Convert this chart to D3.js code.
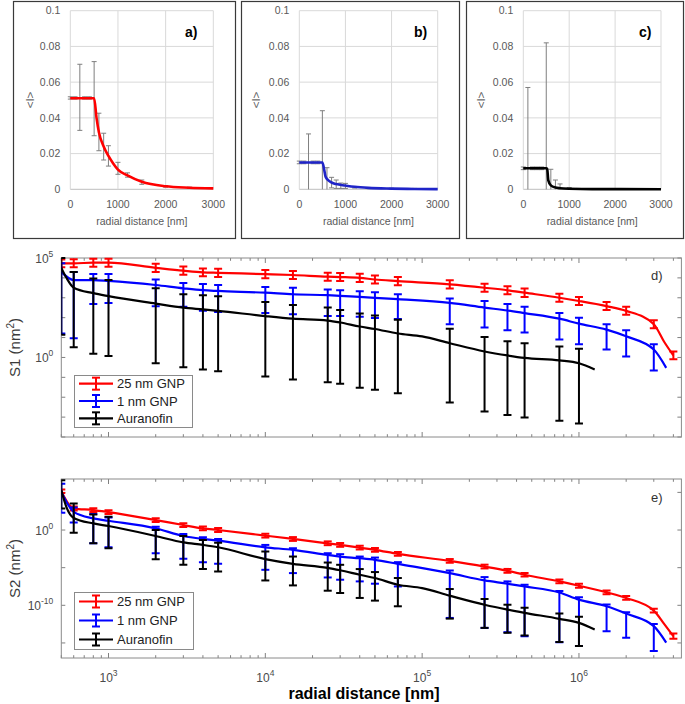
<!DOCTYPE html>
<html><head><meta charset="utf-8">
<script src="https://cdn.jsdelivr.net/npm/d3@7"></script>
<style>body{margin:0;background:#fff}svg{display:block}text{font-family:"Liberation Sans",Arial,sans-serif}</style>
</head><body><svg id="c" width="685" height="704"></svg>
<script>
// ---------- top panels (linear) ----------
const aLineX = [0,100,200,300,400,500,550,600,700,800,900,1000,1200,1500,2000,2500,3000];
const aLineY = [0.051,0.051,0.051,0.051,0.051,0.051,0.040,0.032,0.024,0.0187,0.0145,0.011,0.0078,0.0042,0.0017,0.0009,0.0005];
const aBarX  = [0,100,200,300,400,500,600,700,800,1000,1200,1500,2000,2500];
const aBarLo = [0.0505,0.0505,0.033,0.0505,0.0505,0.030,0.0216,0.0164,0.013,0.0084,0.0068,0.0028,0.0012,0.0006];
const aBarHi = [0.0518,0.0518,0.070,0.0518,0.0518,0.0715,0.0426,0.0314,0.0244,0.0151,0.0092,0.0052,0.0021,0.0012];

const bLineX = [0,100,200,300,400,500,540,570,630,700,800,1000,1200,1500,2000,2500,3000];
const bLineY = [0.015,0.015,0.015,0.015,0.015,0.015,0.011,0.007,0.005,0.0038,0.0029,0.0021,0.0014,0.0008,0.0004,0.0002,0.0001];
const bBarX  = [0,100,200,300,400,500,600,700,800,900,1000,1200,1500,2000,2500];
const bBarLo = [0.0143,0.0143,0,0.0143,0.0143,0,0,0.0008,0.0005,0.0005,0.0005,0.0007,0.0004,0.0002,0.0001];
const bBarHi = [0.0158,0.0158,0.031,0.0158,0.0158,0.044,0.0121,0.0067,0.0052,0.0035,0.0033,0.0015,0.001,0.0006,0.0005];

const cLineX = [0,100,200,300,400,500,520,545,600,700,800,1000,1500,3000];
const cLineY = [0.0118,0.0118,0.0118,0.0118,0.0118,0.0118,0.0115,0.005,0.0022,0.001,0.0006,0.0003,0.0001,0.00005];
const cBarX  = [0,100,200,300,400,500,600,700,800,1000,1200,1500,2000,2500];
const cBarLo = [0.011,0,0.011,0.011,0.011,0,0,0,0,0,0,0,0,0];
const cBarHi = [0.0125,0.057,0.0125,0.0125,0.0125,0.082,0.0112,0.0052,0.003,0.001,0.0005,0.0004,0.0003,0.0003];

const linYTicks = [0,0.02,0.04,0.06,0.08,0.1];
const linXTicks = [0,1000,2000,3000];

// ---------- bottom panels (log-log) ----------
const legendNames = ["25 nm GNP","1 nm GNP","Auranofin"];
const redX   = [500,600,800,1000,2000,3000,4000,5000,1e4,1.5e4,2.5e4,3e4,4e4,5e4,7e4,1.5e5,2.5e5,3.5e5,4.5e5,7.5e5,1e6,1.5e6,2e6,3e6,3.5e6,4e6];
const blueX  = [500,600,800,1000,2000,3000,4000,5000,1e4,1.5e4,2.5e4,3e4,4e4,5e4,7e4,1.5e5,2.5e5,3.5e5,4.5e5,7.5e5,1e6,1.5e6,2e6,3e6,3.6e6];
const blackX = [500,540,600,800,1000,2000,3000,4000,5000,1e4,1.5e4,2.5e4,3e4,4e4,5e4,7e4,1e5,1.5e5,2.5e5,3.5e5,4.5e5,7.5e5,1e6,1.26e6];

// panel d : S1
const dRedY  = [5.4e4,5.4e4,5.8e4,5.8e4,3.2e4,2.3e4,1.9e4,1.8e4,1.55e4,1.4e4,1.15e4,1.1e4,1.0e4,8.3e3,6.9e3,4.7e3,3.2e3,2.4e3,1.8e3,1.0e3,690,380,220,47,6,1.26];
const dRedLo = [3.4e4,3.4e4,3.6e4,3.6e4,2.0e4,1.45e4,1.2e4,1.1e4,9.7e3,8.8e3,7.2e3,6.9e3,6.3e3,5.2e3,4.3e3,2.9e3,2.0e3,1.5e3,1.1e3,630,430,240,140,29,null,0.8];
const dRedHi = [8.5e4,8.6e4,9.3e4,9.3e4,5.1e4,3.7e4,3.0e4,2.9e4,2.5e4,2.2e4,1.8e4,1.75e4,1.6e4,1.3e4,1.1e4,7.5e3,5.1e3,3.8e3,2.9e3,1.6e3,1.1e3,610,350,75,null,2.0];

const dBlueY  = [2.0e4,7.8e3,7.8e3,7.1e3,4.4e3,3.0e3,2.4e3,2.2e3,1.8e3,1.5e3,1.35e3,1.26e3,1.1e3,1.0e3,850,550,320,230,170,89,50,25,11.5,2.5,0.3];
const dBlueLo = [16,9.3,480,550,380,350,220,195,170,150,120,120,110,95,85,47,32,23,18,8.1,4.6,2.5,1.1,0.22,null];
const dBlueHi = [5.4e4,2.0e4,1.55e4,1.55e4,8.3e3,5.6e3,4.9e3,4.4e3,3.5e3,3.2e3,2.6e3,2.4e3,2.1e3,1.9e3,1.5e3,910,680,480,350,170,100,47,23,4.6,null];

const dBlackY  = [3.2e4,9.8e3,3.2e3,1.7e3,1.2e3,510,320,260,220,120,89,71,57,36,27,16,11.5,5.2,2.0,1.26,0.95,0.71,0.51,0.25];
const dBlackLo = [14,null,3.3,1.55,1.17,0.51,0.32,0.25,0.2,0.11,0.078,0.056,0.047,0.03,0.024,0.016,null,0.0054,0.0019,0.00126,0.00095,0.00066,0.00048,null];
const dBlackHi = [1e5,null,2.0e4,9.3e3,7.8e3,3.0e3,1.5e3,1.35e3,1.2e3,620,430,320,245,160,130,79,null,28,10.7,6.6,5.2,3.6,2.75,null];

// panel e : S2
const eRedY  = [1.4e5,710,450,240,21,4.6,1.66,1.0,0.18,0.065,0.017,0.0105,0.0046,0.0023,6.8e-4,7.9e-5,1.4e-5,3.8e-6,1.15e-6,1.5e-7,4.0e-8,5.2e-9,9.5e-10,2.0e-11,3.2e-13,7.9e-15];
const eRedLo = [8e4,400,250,135,12,2.6,0.93,0.56,0.1,0.036,0.0097,0.0059,0.0026,0.0013,3.8e-4,4.5e-5,7.9e-6,2.1e-6,6.5e-7,8.3e-8,2.2e-8,2.9e-9,5.4e-10,1.1e-11,null,3.5e-15];
const eRedHi = [2.5e5,1.3e3,800,430,37,8.2,3.0,1.8,0.32,0.115,0.031,0.019,0.0082,0.0041,1.2e-3,1.4e-4,2.5e-5,6.8e-6,2.0e-6,2.6e-7,7.1e-8,9.3e-9,1.7e-9,3.6e-11,null,1.8e-14];

const eBlueY  = [1.15e5,260,35,17,1.66,0.16,0.065,0.039,0.0051,0.0023,5.0e-4,3.0e-4,1.8e-4,1.1e-4,3.2e-5,1.9e-6,2.0e-7,7.4e-8,3.2e-8,5.0e-9,5.6e-10,7.4e-11,7.9e-12,1.7e-13,1.1e-15];
const eBlueLo = [195,10,0.017,0.0051,8.3e-4,1.5e-4,5.4e-5,3.2e-5,5.2e-6,1.9e-6,5.0e-7,2.5e-7,1.5e-7,7.4e-8,3.2e-8,2.1e-12,1.0e-13,2.7e-14,7.9e-15,1.26e-15,4.0e-16,3.7e-14,5.0e-15,8.5e-17,null];
const eBlueHi = [1.4e6,1e3,130,47,2.75,0.3,0.107,0.065,0.0105,0.0038,8.3e-4,6.2e-4,3.0e-4,2.2e-4,5.4e-5,4.2e-6,5.6e-7,1.5e-7,5.4e-8,8e-9,1.15e-9,1.26e-10,1.2e-11,3.2e-13,null];

const eBlackY  = [1.9e5,1e3,40,7.6,3.4,0.16,0.023,0.0105,0.0051,1.35e-4,3.2e-5,9.5e-6,4.5e-6,1.15e-6,4.2e-7,5.4e-8,1.95e-8,1.9e-9,1.2e-10,2.7e-11,1.0e-11,1.6e-12,4.7e-13,6.2e-14];
const eBlackLo = [740,null,0.45,0.017,0.0038,1.35e-4,2.4e-5,6.5e-6,3.2e-6,2.0e-7,4.4e-8,8.7e-9,4.3e-9,9.5e-10,4.2e-10,7.4e-11,null,1.7e-12,1.0e-13,2.2e-14,1.0e-14,1.3e-15,3.8e-16,null];
const eBlackHi = [4e6,null,3.3e3,117,58,1.0,0.16,0.048,0.021,1.4e-3,3.0e-4,4.8e-5,2.4e-5,6.5e-6,2.6e-6,4.2e-7,null,1.45e-8,6.9e-10,1.2e-10,4.6e-11,7.9e-12,3.0e-12,null];

const xMajorTicks = [1e3,1e4,1e5,1e6];
const dYTicks = [1e-4,1e-3,1e-2,1e-1,1,1e1,1e2,1e3,1e4,1e5];
const dYLabels = [1,1e5];
const eYTicks = [1e-15,1e-10,1e-5,1,1e5];
const eYLabels = [1e-10,1];

// ================= drawing =================
const svg = d3.select("#c");

// ---- top panels ----
const topCfg = [
  {box:[13,1,235,238], px:[70.3,213.3], lx:aLineX, ly:aLineY, bx:aBarX, lo:aBarLo, hi:aBarHi, color:"#ff0000", lab:"a)", labX:185, ylx:30},
  {box:[241,1,459,238], px:[299.3,437.7], lx:bLineX, ly:bLineY, bx:bBarX, lo:bBarLo, hi:bBarHi, color:"#1f24c8", lab:"b)", labX:414, ylx:256},
  {box:[466,1,683,238], px:[523.3,661], lx:cLineX, ly:cLineY, bx:cBarX, lo:cBarLo, hi:cBarHi, color:"#000000", lab:"c)", labX:639, ylx:481}
];
const TY0 = 189.3, TY1 = 10.7;
topCfg.forEach(p => {
  const g = svg.append("g");
  g.append("rect").attr("x",p.box[0]+0.5).attr("y",p.box[1]+0.5)
    .attr("width",p.box[2]-p.box[0]).attr("height",p.box[3]-p.box[1])
    .attr("fill","#fff").attr("stroke","#3a3a3a").attr("stroke-width",1.2);
  const x = d3.scaleLinear().domain([0,3000]).range(p.px);
  const y = d3.scaleLinear().domain([0,0.1]).range([TY0,TY1]);
  g.selectAll(".hg").data(linYTicks).join("line")
    .attr("x1",p.px[0]).attr("x2",p.px[1]).attr("y1",d=>y(d)).attr("y2",d=>y(d))
    .attr("stroke",d=>d===0?"#bfbfbf":"#d9d9d9").attr("stroke-width",1);
  g.selectAll(".vg").data(linXTicks).join("line")
    .attr("x1",d=>x(d)).attr("x2",d=>x(d)).attr("y1",TY0).attr("y2",TY1)
    .attr("stroke","#d9d9d9").attr("stroke-width",1);
  g.selectAll(".yl").data(linYTicks).join("text")
    .attr("x",p.px[0]-10).attr("y",d=>y(d)+3.7).attr("text-anchor","end")
    .attr("font-size",10.5).attr("fill","#595959").text(d=>String(+d.toFixed(2)));
  g.selectAll(".xl").data(linXTicks).join("text")
    .attr("x",d=>x(d)).attr("y",208).attr("text-anchor","middle")
    .attr("font-size",10.5).attr("fill","#595959").text(d=>d);
  g.append("text").attr("x",(p.px[0]+p.px[1])/2).attr("y",225).attr("text-anchor","middle")
    .attr("font-size",10.5).attr("fill","#595959").text("radial distance [nm]");
  g.append("text").attr("transform",`translate(${p.ylx+4},${(TY0+TY1)/2}) rotate(-90)`)
    .attr("text-anchor","middle").attr("font-size",11.5).attr("fill","#595959").text("<I>");
  g.append("text").attr("x",p.labX).attr("y",37).attr("font-size",14).attr("font-weight","bold")
    .attr("fill","#000").text(p.lab);
  const bars = p.bx.map((v,i)=>({x:v,lo:p.lo[i],hi:p.hi[i]}));
  const eb = g.append("g").attr("stroke","#7f7f7f").attr("stroke-width",1).attr("fill","none");
  eb.selectAll(".v").data(bars).join("line")
    .attr("x1",d=>x(d.x)).attr("x2",d=>x(d.x)).attr("y1",d=>y(d.lo)).attr("y2",d=>y(d.hi));
  eb.selectAll(".ct").data(bars).join("line")
    .attr("x1",d=>x(d.x)-2.5).attr("x2",d=>x(d.x)+2.5).attr("y1",d=>y(d.hi)).attr("y2",d=>y(d.hi));
  eb.selectAll(".cb").data(bars.filter(d=>d.lo>0)).join("line")
    .attr("x1",d=>x(d.x)-2.5).attr("x2",d=>x(d.x)+2.5).attr("y1",d=>y(d.lo)).attr("y2",d=>y(d.lo));
  const pts = p.lx.map((v,i)=>[v,p.ly[i]]);
  g.append("path").datum(pts)
    .attr("d",d3.line().x(d=>x(d[0])).y(d=>y(d[1])).curve(d3.curveMonotoneX))
    .attr("fill","none").attr("stroke",p.color).attr("stroke-width",2.6);
});

// ---- log panels ----
const xLog = d3.scaleLog().domain([500,4.5e6]).range([61.3,681.4]);
const XL = 61.3, XR = 681.4;
const colors = ["#ff0000","#0000ff","#000000"];
const logCfg = [
  {top:258, bot:437, domain:[1e-4,1e5], yt:dYTicks, yl:dYLabels, lab:"d)", labY:279.5, ylab:"S1", xlabels:false,
   series:[[redX,dRedY,dRedLo,dRedHi],[blueX,dBlueY,dBlueLo,dBlueHi],[blackX,dBlackY,dBlackLo,dBlackHi]],
   legend:[74,375,192,427]},
  {top:479, bot:658, domain:[1e-17,6e6], yt:eYTicks, yl:eYLabels, lab:"e)", labY:502, ylab:"S2", xlabels:true,
   series:[[redX,eRedY,eRedLo,eRedHi],[blueX,eBlueY,eBlueLo,eBlueHi],[blackX,eBlackY,eBlackLo,eBlackHi]],
   legend:[74,592,193,649]}
];
const supFmt = v => String(Math.round(Math.log10(v)));

logCfg.forEach((p,pi) => {
  const g = svg.append("g");
  const y = d3.scaleLog().domain(p.domain).range([p.bot,p.top]);
  const cid = "clip"+pi;
  svg.append("clipPath").attr("id",cid).append("rect")
    .attr("x",XL).attr("y",p.top-1).attr("width",XR-XL).attr("height",p.bot-p.top+2);
  g.append("rect").attr("x",XL).attr("y",p.top).attr("width",XR-XL).attr("height",p.bot-p.top)
    .attr("fill","#fff");
  const tk = g.append("g").attr("stroke","#808080").attr("stroke-width",1);
  const minor = xLog.ticks().filter(v=>!xMajorTicks.includes(v));
  [[xMajorTicks,5],[minor,2.8]].forEach(([vals,len])=>{
    tk.selectAll(null).data(vals).join("line")
      .attr("x1",d=>xLog(d)).attr("x2",d=>xLog(d)).attr("y1",p.bot).attr("y2",p.bot-len);
    tk.selectAll(null).data(vals).join("line")
      .attr("x1",d=>xLog(d)).attr("x2",d=>xLog(d)).attr("y1",p.top).attr("y2",p.top+len);
  });
  tk.selectAll(null).data(p.yt).join("line")
    .attr("x1",XL).attr("x2",XL+4).attr("y1",d=>y(d)).attr("y2",d=>y(d));
  tk.selectAll(null).data(p.yt).join("line")
    .attr("x1",XR).attr("x2",XR-4).attr("y1",d=>y(d)).attr("y2",d=>y(d));
  g.append("rect").attr("x",XL).attr("y",p.top).attr("width",XR-XL).attr("height",p.bot-p.top)
    .attr("fill","none").attr("stroke","#8a8a8a").attr("stroke-width",1);
  const yl = g.selectAll(null).data(p.yl).join("text")
    .attr("x",XL-8).attr("y",d=>y(d)+4.5).attr("text-anchor","end")
    .attr("font-size",12).attr("fill","#4a4a4a");
  yl.append("tspan").text("10");
  yl.append("tspan").attr("dy",-6).attr("font-size",8.5).text(d=>supFmt(d));
  if (p.xlabels) {
    const xl = g.selectAll(null).data(xMajorTicks).join("text")
      .attr("x",d=>xLog(d)).attr("y",682).attr("text-anchor","middle")
      .attr("font-size",12).attr("fill","#4a4a4a");
    xl.append("tspan").text("10");
    xl.append("tspan").attr("dy",-6).attr("font-size",8.5).text(d=>supFmt(d));
  }
  const t = g.append("text").attr("transform",`translate(20,${(p.top+p.bot)/2}) rotate(-90)`)
    .attr("text-anchor","middle").attr("font-size",15).attr("fill","#3a3a3a");
  t.append("tspan").text(p.ylab+" (nm");
  t.append("tspan").attr("dy",-6).attr("font-size",10).text("2");
  t.append("tspan").attr("dy",6).text(")");
  g.append("text").attr("x",651).attr("y",p.labY).attr("font-size",13).attr("fill","#333").text(p.lab);
  const dg = g.append("g").attr("clip-path",`url(#${cid})`);
  p.series.forEach((s,si)=>{
    const [X,Y,LO,HI] = s;
    const pts = X.map((v,i)=>({x:v,y:Y[i],lo:LO[i],hi:HI[i]}));
    const sg = dg.append("g");
    sg.append("path").datum(pts)
      .attr("d",d3.line().x(d=>xLog(d.x)).y(d=>y(d.y)).curve(d3.curveMonotoneX))
      .attr("fill","none").attr("stroke",colors[si]).attr("stroke-width",2.2);
    const bars = pts.filter(d=>d.lo!=null);
    const eb = sg.append("g").attr("stroke",colors[si]).attr("stroke-width",2);
    eb.selectAll(null).data(bars).join("line")
      .attr("x1",d=>xLog(d.x)).attr("x2",d=>xLog(d.x)).attr("y1",d=>y(d.lo)).attr("y2",d=>y(d.hi));
    eb.selectAll(null).data(bars).join("line")
      .attr("x1",d=>xLog(d.x)-4).attr("x2",d=>xLog(d.x)+4).attr("y1",d=>y(d.lo)).attr("y2",d=>y(d.lo));
    eb.selectAll(null).data(bars).join("line")
      .attr("x1",d=>xLog(d.x)-4).attr("x2",d=>xLog(d.x)+4).attr("y1",d=>y(d.hi)).attr("y2",d=>y(d.hi));
  });
  const [lx0,ly0,lx1,ly1] = p.legend;
  const lg = g.append("g");
  lg.append("rect").attr("x",lx0+0.5).attr("y",ly0+0.5).attr("width",lx1-lx0).attr("height",ly1-ly0)
    .attr("fill","#fff").attr("stroke","#8a8a8a").attr("stroke-width",1);
  const rowH = (ly1-ly0)/3;
  legendNames.forEach((nm,i)=>{
    const cy = ly0 + rowH*(i+0.5);
    lg.append("line").attr("x1",lx0+5).attr("x2",lx0+39).attr("y1",cy).attr("y2",cy)
      .attr("stroke",colors[i]).attr("stroke-width",2.2);
    lg.append("line").attr("x1",lx0+22).attr("x2",lx0+22).attr("y1",cy-6).attr("y2",cy+6)
      .attr("stroke",colors[i]).attr("stroke-width",2);
    [cy-6,cy+6].forEach(yy=>lg.append("line").attr("x1",lx0+18).attr("x2",lx0+26).attr("y1",yy).attr("y2",yy)
      .attr("stroke",colors[i]).attr("stroke-width",2));
    lg.append("text").attr("x",lx0+43).attr("y",cy+4.5).attr("font-size",13).attr("fill","#222").text(nm);
  });
});

svg.append("text").attr("x",364).attr("y",699).attr("text-anchor","middle")
  .attr("font-size",16).attr("font-weight","bold").attr("fill","#000").text("radial distance [nm]");
</script></body></html>
